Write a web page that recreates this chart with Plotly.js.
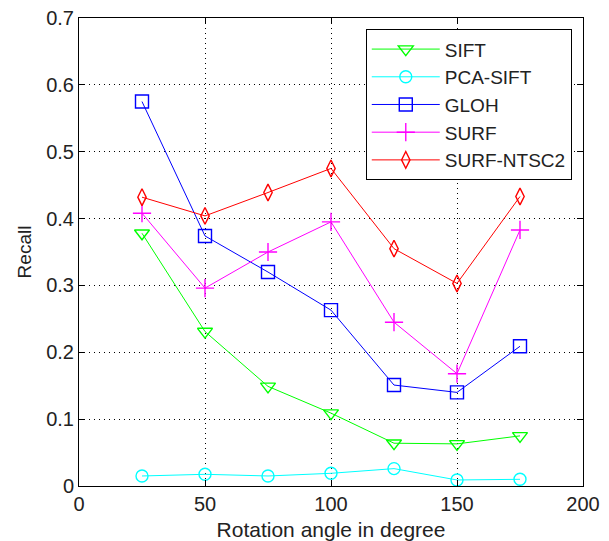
<!DOCTYPE html>
<html>
<head>
<meta charset="utf-8">
<script src="https://cdn.plot.ly/plotly-3.0.1.min.js"></script>
<style>html,body{margin:0;padding:0;background:#fff}#chart{width:609px;height:541px}</style>
</head>
<body>
<div id="chart"></div>
<script>
const angles = [25, 50, 75, 100, 125, 150, 175];
const sift = [0.378, 0.231, 0.149, 0.109, 0.064, 0.063, 0.075];
const pcaSift = [0.015, 0.0175, 0.015, 0.019, 0.026, 0.009, 0.010];
const gloh = [0.575, 0.374, 0.320, 0.263, 0.151, 0.140, 0.209];
const surf = [0.408, 0.296, 0.350, 0.395, 0.245, 0.168, 0.383];
const surfNtsc2 = [0.432, 0.404, 0.439, 0.475, 0.355, 0.303, 0.433];
const xTicks = [0, 50, 100, 150, 200];
const yTicks = [0, 0.1, 0.2, 0.3, 0.4, 0.5, 0.6, 0.7];

function tr(name, y, color, symbol, size) {
  return {
    x: angles, y: y, name: name, type: 'scatter', mode: 'lines+markers',
    line: {color: color, width: 1},
    marker: {symbol: symbol, size: size, color: color, line: {color: color, width: 1.4}}
  };
}
const data = [
  tr('SIFT', sift, '#00ff00', 'triangle-down-open', 13),
  tr('PCA-SIFT', pcaSift, '#00ffff', 'circle-open', 12),
  tr('GLOH', gloh, '#0000ff', 'square-open', 13),
  tr('SURF', surf, '#ff00ff', 'cross-thin-open', 13),
  tr('SURF-NTSC2', surfNtsc2, '#ff0000', 'diamond-tall-open', 12)
];
const fontFam = 'Arial, "Liberation Sans", sans-serif';
const axisCommon = {
  showline: true, linecolor: '#000', linewidth: 1, mirror: 'ticks',
  ticks: 'inside', ticklen: 6, tickcolor: '#000',
  showgrid: true, gridcolor: '#000', griddash: '1px,4px', gridwidth: 1,
  zeroline: false, tickfont: {family: fontFam, size: 20, color: '#222'}
};
const layout = {
  width: 609, height: 541,
  margin: {l: 79, r: 26, t: 18, b: 55},
  paper_bgcolor: '#fff', plot_bgcolor: '#fff',
  font: {family: fontFam, color: '#222'},
  xaxis: Object.assign({}, axisCommon, {
    range: [0, 200], tickvals: xTicks, ticktext: xTicks.map(String),
    title: {text: 'Rotation angle in degree', font: {family: fontFam, size: 21, color: '#222'}, standoff: 9}
  }),
  yaxis: Object.assign({}, axisCommon, {
    range: [0, 0.7], tickvals: yTicks, ticktext: yTicks.map(v => v === 0 ? '0' : v.toFixed(1)),
    title: {text: 'Recall', font: {family: fontFam, size: 19, color: '#222'}, standoff: 9}
  }),
  showlegend: true,
  legend: {
    x: 0.569, y: 0.976, xanchor: 'left', yanchor: 'top',
    bgcolor: '#fff', bordercolor: '#000', borderwidth: 1,
    font: {family: fontFam, size: 19, color: '#222'},
    tracegroupgap: 0, itemwidth: 68
  }
};
Plotly.newPlot('chart', data, layout, {displayModeBar: false, staticPlot: true});
</script>
</body>
</html>
